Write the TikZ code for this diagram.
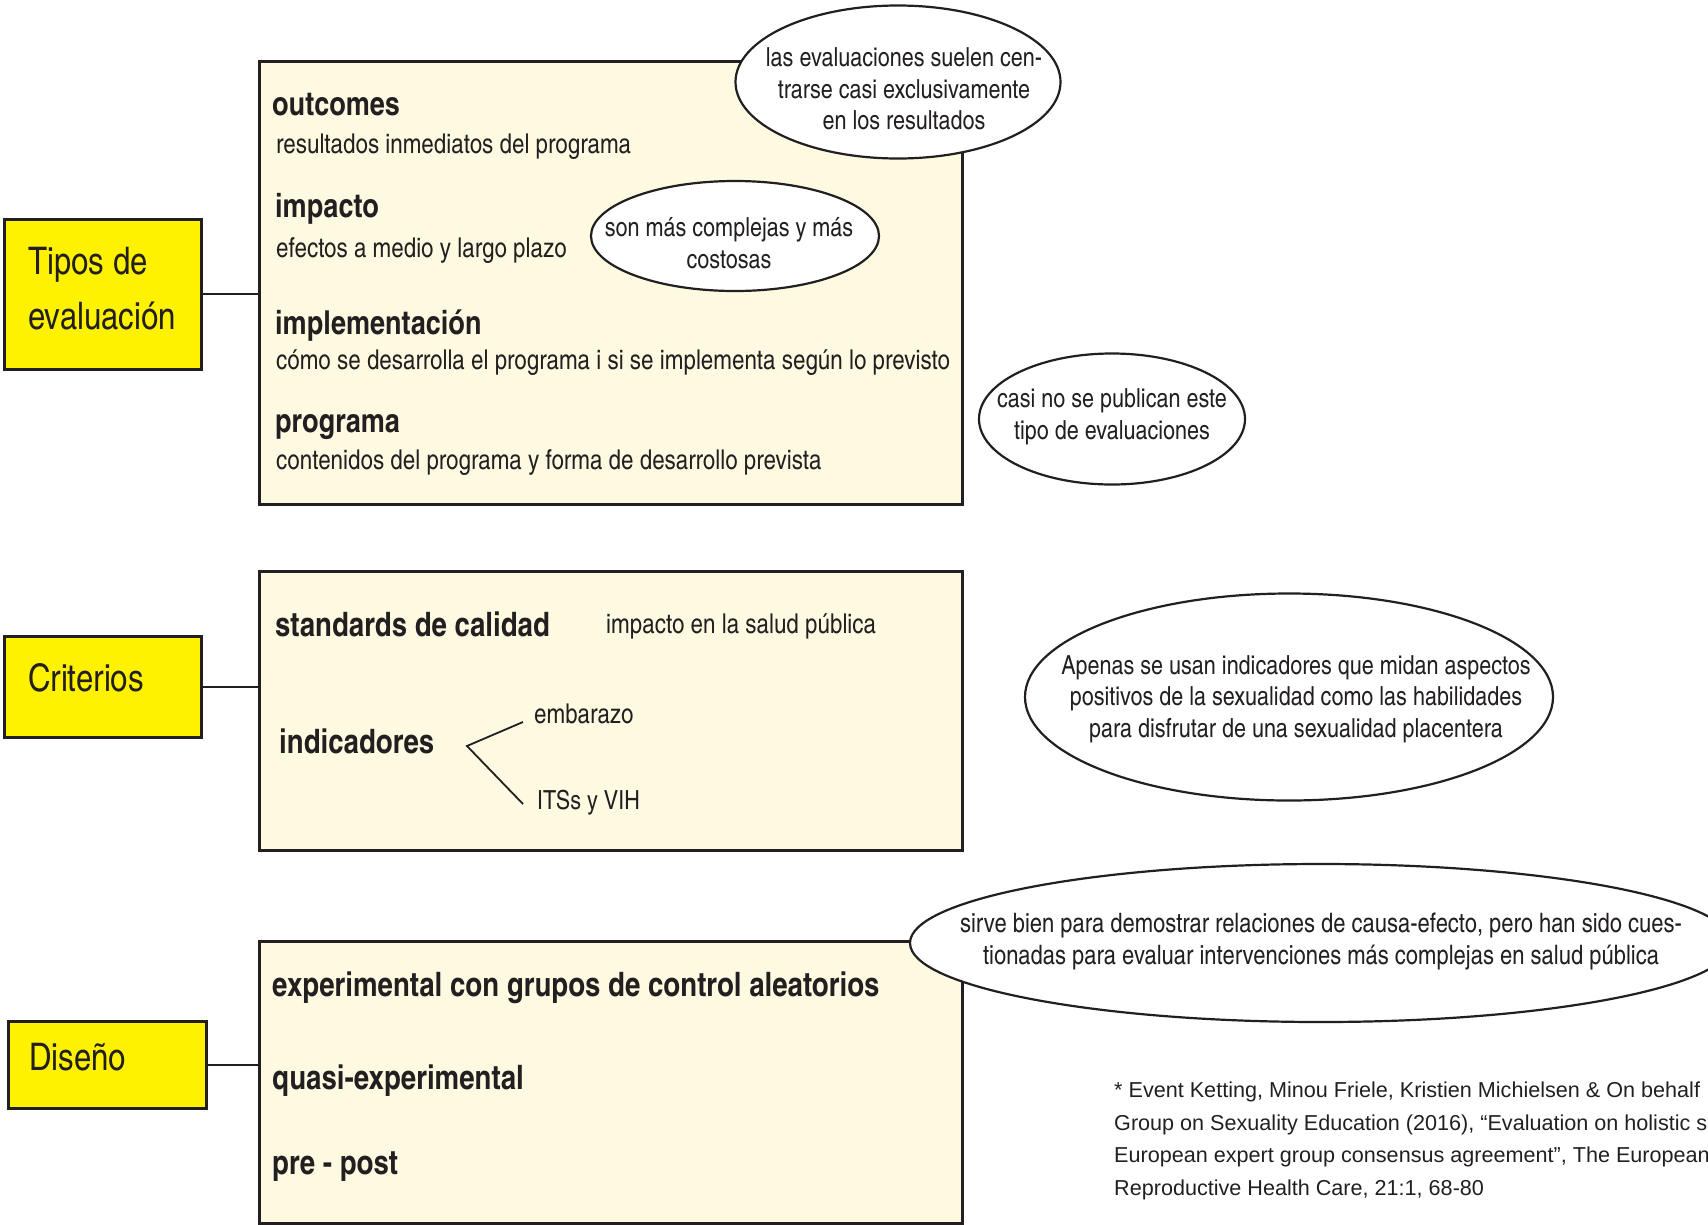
\documentclass[tikz,border=0pt]{standalone}
\usepackage{fontspec}
\setmainfont{TeX Gyre Heros Cn}
\newfontfamily\footfont{Liberation Sans}
\usetikzlibrary{shapes.geometric}
\definecolor{yelo}{HTML}{FFF200}
\definecolor{cream}{HTML}{FEFAE2}
\definecolor{linec}{HTML}{231F20}
\newcommand{\bodyf}{\fontsize{27.3}{31.5}\selectfont}
\newcommand{\bubf}{\fontsize{26.3}{31.6}\selectfont}
\newcommand{\bubg}{\fontsize{26.8}{32}\selectfont}
\newcommand{\headf}{\bfseries\fontsize{33}{38}\selectfont}
\newcommand{\headg}{\bfseries\fontsize{33.7}{40}\selectfont}
\newcommand{\titlef}{\fontsize{38}{55}\selectfont}
\begin{document}
\begin{tikzpicture}[x=1pt,y=-1pt,
  titlebox/.style={draw=linec, line width=2.5pt, fill=yelo, anchor=north west, inner sep=0pt},
  panel/.style={draw=linec, line width=2.5pt, fill=cream, anchor=north west, inner sep=0pt},
  bubble/.style={ellipse, draw=linec, line width=2.2pt, fill=white, inner sep=0pt},
  bubtext/.style={align=center, font=\bubf, text=linec, inner sep=0pt},
  body/.style={anchor=west, font=\bodyf, text=linec, inner sep=0pt},
  head/.style={anchor=west, font=\headf, text=linec, inner sep=0pt},
  headb/.style={anchor=west, font=\headg, text=linec, inner sep=0pt},
  title/.style={anchor=west, font=\titlef, text=linec, inner sep=0pt, align=left},
  link/.style={draw=linec, line width=2.2pt},
  branch/.style={draw=linec, line width=1.8pt}]
\useasboundingbox (0,0) rectangle (1708,1224);
\clip (0,0) rectangle (1708,1224);

% title boxes
\node[titlebox, minimum width=197pt, minimum height=150pt] (tipos) at (3,218) {};
\node[titlebox, minimum width=197pt, minimum height=101pt] (crit) at (3,635) {};
\node[titlebox, minimum width=198pt, minimum height=87pt] (dis) at (7,1020) {};
\node[title] (tiposT) at (28,289) {Tipos de\\evaluación};
\node[title] (critT) at (28,678) {Criterios};
\node[title] (disT) at (29,1057) {Diseño};

% panels
\node[panel, minimum width=703pt, minimum height=443pt] (p1) at (258,60) {};
\node[panel, minimum width=703pt, minimum height=279pt] (p2) at (258,570) {};
\node[panel, minimum width=703pt, minimum height=282pt] (p3) at (258,940) {};

% connectors
\draw[link] (tipos.east) -- (tipos.east -| p1.west);
\draw[link] (crit.east) -- (crit.east -| p2.west);
\draw[link] (dis.east) -- (dis.east -| p3.west);

% panel 1 texts
\node[head] (outc) at (272,105) {outcomes};
\node[body] (outcD) at (276,147) {resultados inmediatos del programa};
\node[head] (imp) at (275,209) {impacto};
\node[body] (impD) at (276,251) {efectos a medio y largo plazo};
\node[head] (impl) at (275,326) {implementación};
\node[body] (implD) at (276,363) {cómo se desarrolla el programa i si se implementa según lo previsto};
\node[head] (prog) at (275,427) {programa};
\node[body] (progD) at (276,463) {contenidos del programa y forma de desarrollo prevista};

% panel 2 texts
\node[headb] (std) at (275,624) {standards de calidad};
\node[body] (stdD) at (606,626) {impacto en la salud pública};
\node[headb] (ind) at (279,741) {indicadores};
\node[body] (emb) at (534,714) {embarazo};
\node[body, font=\fontsize{26.3}{31.5}\selectfont] (its) at (537,803) {ITSs y VIH};
\coordinate (br) at (467,746);
\coordinate (b1) at (523,722);
\coordinate (b2) at (523,804);
\draw[branch] (b1) -- (br) -- (b2);

% panel 3 texts
\node[headb] (exp) at (272,988) {experimental con grupos de control aleatorios};
\node[headb] (quasi) at (272,1081) {quasi-experimental};
\node[headb] (pp) at (272,1167) {pre - post};

% bubbles
\node[bubble, minimum width=325pt, minimum height=153pt] (e1) at (898,82) {};
\node[bubtext] (e1T) at (904,89) {las evaluaciones suelen cen-\\trarse casi exclusivamente\\en los resultados};
\node[bubble, minimum width=288pt, minimum height=110pt] (e2) at (735,236) {};
\node[bubtext] (e2T) at (729,243) {son más complejas y más\\costosas};
\node[bubble, minimum width=266pt, minimum height=131pt] (e3) at (1112,419) {};
\node[bubtext] (e3T) at (1112,417) {casi no se publican este\\tipo de evaluaciones};
\node[bubble, minimum width=528pt, minimum height=207pt] (e4) at (1289,697) {};
\node[bubtext] (e4T) at (1296,699) {Apenas se usan indicadores que midan aspectos\\positivos de la sexualidad como las habilidades\\para disfrutar de una sexualidad placentera};
\node[bubble, minimum width=822pt, minimum height=158pt] (e5) at (1321,943) {};
\node[bubtext, font=\bubg] (e5T) at (1321,942) {sirve bien para demostrar relaciones de causa-efecto, pero han sido cues-\\tionadas para evaluar intervenciones más complejas en salud pública};

% footnote
\node[anchor=north west, align=left, inner sep=0pt, text=linec,
  font=\footfont\fontsize{21.6}{32.5}\selectfont] (foot) at (1114,1082)
  {* Event Ketting, Minou Friele, Kristien Michielsen \& On behalf\\
   Group on Sexuality Education (2016), “Evaluation on holistic s\\
   European expert group consensus agreement”, The European\\
   Reproductive Health Care, 21:1, 68-80};
\end{tikzpicture}
\end{document}
